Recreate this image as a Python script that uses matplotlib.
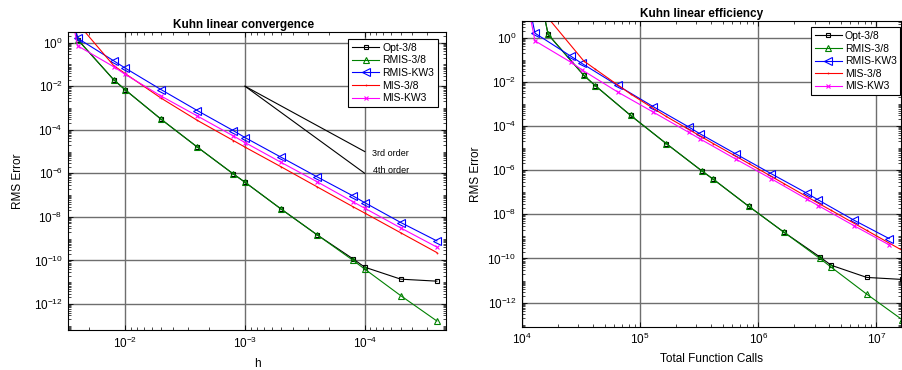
import matplotlib
matplotlib.use('Agg')
import matplotlib.pyplot as plt
import numpy as np
from matplotlib.ticker import LogLocator, NullFormatter

plt.rcParams['font.family'] = ['Liberation Sans', 'DejaVu Sans']
plt.rcParams['mathtext.fontset'] = 'custom'
plt.rcParams['mathtext.rm'] = 'Liberation Sans'
plt.rcParams['mathtext.it'] = 'Liberation Sans:italic'
plt.rcParams['mathtext.bf'] = 'Liberation Sans:bold'

# step sizes (first one is off the chart, it only gives the steep entry lines)
h = [0.05, 0.025, 0.0125, 0.01, 0.005, 0.0025, 0.00125, 0.001,
     5e-4, 2.5e-4, 1.25e-4, 1e-4, 5e-5, 2.5e-5]

# total function calls for the 3/8 (4 stage) and KW3 (3 stage) methods
calls_38 = [8320, 16640, 33280, 41600, 83200, 166400, 332800, 416000,
            832000, 1664000, 3328000, 4160000, 8320000, 16640000]
calls_kw3 = [6440, 12880, 25760, 32200, 64400, 128800, 257600, 322000,
             644000, 1288000, 2576000, 3220000, 6440000, 12880000]

err_opt38 = [1e8, 1.4, 2.0e-2, 6.8e-3, 3.0e-4, 1.6e-5, 9.3e-7, 3.9e-7,
             2.3e-8, 1.5e-9, 1.17e-10, 4.9e-11, 1.38e-11, 1.12e-11]
err_rmis38 = [1e8, 1.4, 2.0e-2, 6.8e-3, 3.0e-4, 1.6e-5, 9.3e-7, 3.9e-7,
              2.3e-8, 1.5e-9, 1.0e-10, 4.0e-11, 2.4e-12, 1.66e-13]
err_rmiskw3 = [1e8, 1.6, 0.148, 6.8e-2, 6.9e-3, 7.6e-4, 9.1e-5, 4.4e-5,
               5.5e-6, 6.9e-7, 9.1e-8, 4.5e-8, 5.5e-9, 7.9e-10]
err_mis38 = [1e8, 7.8, 8.9e-2, 3.8e-2, 2.8e-3, 2.7e-4, 3.2e-5, 1.6e-5,
             2.0e-6, 2.4e-7, 2.9e-8, 1.5e-8, 1.85e-9, 2.3e-10]
err_miskw3 = [1e8, 0.72, 7.9e-2, 3.5e-2, 3.5e-3, 4.3e-4, 5.2e-5, 2.6e-5,
              3.2e-6, 4.1e-7, 4.9e-8, 2.5e-8, 3.1e-9, 4.1e-10]

labels = ['Opt-3/8', 'RMIS-3/8', 'RMIS-KW3', 'MIS-3/8', 'MIS-KW3']
errors = [err_opt38, err_rmis38, err_rmiskw3, err_mis38, err_miskw3]
calls = [calls_38, calls_38, calls_kw3, calls_38, calls_kw3]
colors = ['k', '#008000', '#0000ff', '#ff0000', '#ff00ff']
markers = ['s', '^', '<', '.', 'x']
msizes = [3.5, 5, 5.5, 1, 3.5]

# reference slopes
ref_h = [1e-3, 1e-4]
ref_3rd = [1e-2, 1e-5]
ref_4th = [1e-2, 1e-6]

W, H = 902, 370
fig = plt.figure(figsize=(W / 100, H / 100), dpi=100)
ax1 = fig.add_axes([68.3 / W, 1 - 330 / H, (445.7 - 68.3) / W, (330 - 32.3) / H])
ax2 = fig.add_axes([522 / W, 1 - 326.7 / H, (901 - 522) / W, (326.7 - 21) / H])

for i in range(5):
    ax1.loglog(h, errors[i], color=colors[i], marker=markers[i], ms=msizes[i],
               mfc='none', mew=0.8, lw=0.8, label=labels[i])
    ax2.loglog(calls[i], errors[i], color=colors[i], marker=markers[i], ms=msizes[i],
               mfc='none', mew=0.8, lw=0.8, label=labels[i])

ax1.plot(ref_h, ref_3rd, color='k', lw=0.8)
ax1.plot(ref_h, ref_4th, color='k', lw=0.8)
ax1.text(8.7e-5, 8.3e-6, '3rd order', fontsize=6.5, ha='left', va='center')
ax1.text(8.6e-5, 1.4e-6, '4th order', fontsize=6.5, ha='left', va='center')

ax1.set_xlim(0.0299, 2.11e-5)
ax1.set_ylim(6.4e-14, 3.0)
ax2.set_xlim(1e4, 1.62e7)
ax2.set_ylim(8.1e-14, 5.7)

for ax in (ax1, ax2):
    ax.set_yticks([10.0 ** k for k in range(0, -13, -2)])
    ax.yaxis.set_minor_locator(LogLocator(base=10, subs=np.arange(1, 10), numticks=200))
    ax.xaxis.set_minor_locator(LogLocator(base=10, subs=np.arange(2, 10), numticks=200))
    ax.yaxis.set_minor_formatter(NullFormatter())
    ax.xaxis.set_minor_formatter(NullFormatter())
    ax.grid(True, which='major', color='#6e6e6e', lw=1.0)
    ax.tick_params(which='both', direction='in', top=True, right=True, labelsize=8.5)
    ax.tick_params(which='major', length=3.5, width=0.6, pad=4)
    ax.tick_params(which='minor', length=2, width=0.5)
    for s in ax.spines.values():
        s.set_linewidth(0.8)

ax1.set_ylabel('RMS Error', fontsize=8.5, labelpad=7)
ax2.set_ylabel('RMS Error', fontsize=8.5, labelpad=4)

ax1.set_xticks([1e-2, 1e-3, 1e-4])
ax2.set_xticks([1e4, 1e5, 1e6, 1e7])

ax1.set_xlabel('h', fontsize=8.5, labelpad=5)
ax2.set_xlabel('Total Function Calls', fontsize=8.5, labelpad=4)
ax1.set_title('Kuhn linear convergence', fontsize=8.5, fontweight='bold', x=0.465, pad=3)
ax2.set_title('Kuhn linear efficiency', fontsize=8.5, fontweight='bold', x=0.475, pad=3)

leg_kw = dict(loc='upper right', fontsize=7.5, fancybox=False, edgecolor='k',
              framealpha=1, borderaxespad=0, labelspacing=0.25, borderpad=0.35,
              handletextpad=0.3, handlelength=2.6)
l1 = ax1.legend(bbox_to_anchor=(0.979, 0.977), **leg_kw)
l2 = ax2.legend(bbox_to_anchor=(0.998, 0.979), **leg_kw)
for lg in (l1, l2):
    lg.get_frame().set_linewidth(0.8)

fig.savefig('out.png', dpi=100)
